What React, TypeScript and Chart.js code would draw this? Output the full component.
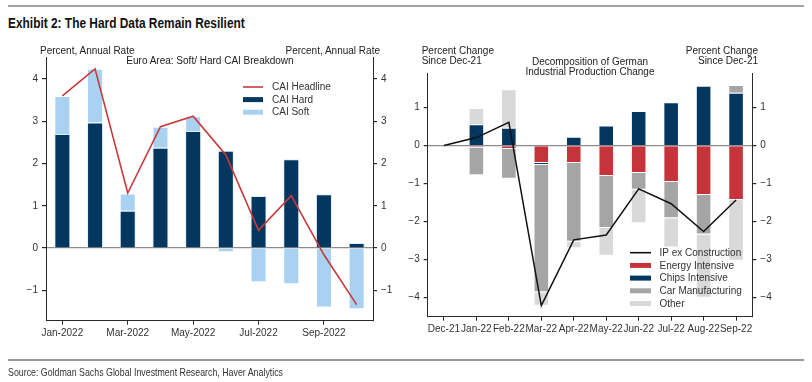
import React, { useEffect, useRef } from 'react';
import { Chart, registerables } from 'chart.js';

Chart.register(...registerables);

// ---------- Left chart data ----------
const CAI_MONTHS = ['Jan-2022', 'Feb-2022', 'Mar-2022', 'Apr-2022', 'May-2022', 'Jun-2022', 'Jul-2022', 'Aug-2022', 'Sep-2022', 'Oct-2022'];
const CAI_HARD = [2.70, 2.97, 0.88, 2.37, 2.77, 2.30, 1.23, 2.10, 1.27, 0.12];
const CAI_SOFT = [0.90, 1.27, 0.41, 0.50, 0.35, -0.10, -0.81, -0.86, -1.41, -1.45];
const CAI_HEADLINE = [3.60, 4.24, 1.30, 2.87, 3.12, 2.20, 0.42, 1.24, -0.16, -1.34];
const CAI_TICKS = [-1, 0, 1, 2, 3, 4];
const CAI_NAMES = ['CAI Headline', 'CAI Hard', 'CAI Soft'];

// ---------- Right chart data ----------
const IP_MONTHS = ['Dec-21', 'Jan-22', 'Feb-22', 'Mar-22', 'Apr-22', 'May-22', 'Jun-22', 'Jul-22', 'Aug-22', 'Sep-22'];
const IP_ENERGY = [null, -0.05, -0.09, -0.46, -0.46, -0.80, -0.72, -0.96, -1.30, -1.43];
const IP_CHIPS = [null, 0.56, 0.47, -0.05, 0.23, 0.53, 0.91, 1.14, 1.57, 1.39];
const IP_CAR = [null, -0.73, -0.78, -3.35, -2.07, -1.37, -0.44, -0.95, -1.04, 0.20];
const IP_OTHER = [null, 0.43, 1.01, -0.35, -0.17, -0.73, -0.88, -0.77, -1.66, -1.60];
const IP_LINE = [0, 0.21, 0.61, -4.21, -2.48, -2.35, -1.14, -1.53, -2.26, -1.43];
const IP_TICKS = [-4, -3, -2, -1, 0, 1];
const IP_NAMES = ['IP ex Construction', 'Energy Intensive', 'Chips Intensive', 'Car Manufacturing', 'Other'];

const NAVY = '#033760';
const LIGHT_BLUE = '#A9D1F1';
const RED = '#C4343A';
const LINE_RED = '#C83A3A';
const CAR_GRAY = '#A5A5A5';
const OTHER_GRAY = '#D9D9D9';
const TEXT = '#333333';
const AXIS = '#2a2a2a';
const FONT = '"Liberation Sans", Arial, sans-serif';

const fmt = (v: number) => (v < 0 ? '\u2212' + Math.abs(v) : String(v));

type LegendItem = { label: string; color: string; kind: 'line' | 'box' };

function makeLegend(items: LegendItem[], x0: number, y0: number, dy: number, sw: number, tx: number) {
  return {
    id: 'customLegend',
    afterDraw(chart: any) {
      const ctx = chart.ctx;
      ctx.save();
      ctx.font = '10px ' + FONT;
      ctx.textBaseline = 'middle';
      items.forEach((it, i) => {
        const y = y0 + i * dy;
        if (it.kind === 'line') {
          ctx.strokeStyle = it.color;
          ctx.lineWidth = 1.6;
          ctx.beginPath();
          ctx.moveTo(x0, y);
          ctx.lineTo(x0 + sw, y);
          ctx.stroke();
        } else {
          ctx.fillStyle = it.color;
          ctx.fillRect(x0, y - 2.5, sw, 5);
        }
        ctx.fillStyle = TEXT;
        ctx.fillText(it.label, tx, y + 0.5);
      });
      ctx.restore();
    },
  };
}

function yAxis(position: 'left' | 'right', min: number, max: number, ticks: number[], width: number, zeroLine: boolean) {
  return {
    type: 'linear',
    position,
    min,
    max,
    stacked: true,
    afterBuildTicks: (scale: any) => {
      scale.ticks = ticks.map((v) => ({ value: v }));
    },
    afterFit: (scale: any) => {
      scale.width = width;
    },
    border: { display: true, color: AXIS, width: 1 },
    grid: {
      drawOnChartArea: zeroLine,
      drawTicks: true,
      tickLength: 4,
      tickColor: AXIS,
      color: (ctx: any) => (ctx.tick && ctx.tick.value === 0 ? '#8c8c8c' : 'rgba(0,0,0,0)'),
      lineWidth: 1.2,
    },
    ticks: {
      color: TEXT,
      font: { family: FONT, size: 10 },
      padding: 4,
      callback: (v: any) => fmt(Number(v)),
    },
  };
}

function LeftChart() {
  const ref = useRef<HTMLCanvasElement>(null);
  useEffect(() => {
    const legend = makeLegend(
      [
        { label: CAI_NAMES[0], color: LINE_RED, kind: 'line' },
        { label: CAI_NAMES[1], color: NAVY, kind: 'box' },
        { label: CAI_NAMES[2], color: LIGHT_BLUE, kind: 'box' },
      ],
      243, 87, 12.6, 20, 272
    );
    const chart = new Chart(ref.current as HTMLCanvasElement, {
      type: 'bar',
      data: {
        labels: CAI_MONTHS,
        datasets: [
          {
            type: 'line',
            label: CAI_NAMES[0],
            data: CAI_HEADLINE,
            borderColor: LINE_RED,
            borderWidth: 1.6,
            pointRadius: 0,
            tension: 0,
            stack: 'line',
            order: 0,
          } as any,
          {
            label: CAI_NAMES[1],
            data: CAI_HARD,
            backgroundColor: NAVY,
            borderColor: 'rgba(220,235,250,0.9)',
            borderWidth: 1,
            order: 1,
            stack: 'bars',
          },
          {
            label: CAI_NAMES[2],
            data: CAI_SOFT,
            backgroundColor: LIGHT_BLUE,
            borderColor: 'rgba(255,255,255,0.9)',
            borderWidth: 1,
            order: 1,
            stack: 'bars',
          },
        ],
      },
      options: {
        responsive: false,
        animation: false,
        devicePixelRatio: 1,
        layout: { padding: { top: 57, left: 0, right: 0, bottom: 0 } },
        datasets: { bar: { categoryPercentage: 1, barPercentage: 0.49 } },
        plugins: { legend: { display: false }, tooltip: { enabled: false }, title: { display: false } },
        scales: {
          x: {
            stacked: true,
            afterFit: (scale: any) => {
              scale.height = 382 - 320.7;
            },
            border: { display: true, color: AXIS, width: 1 },
            grid: {
              offset: false,
              drawOnChartArea: false,
              drawTicks: true,
              tickLength: 4,
              tickColor: (ctx: any) => (ctx.index % 2 === 0 ? AXIS : 'rgba(0,0,0,0)'),
            },
            ticks: {
              autoSkip: false,
              maxRotation: 0,
              minRotation: 0,
              color: TEXT,
              padding: 3,
              font: { family: FONT, size: 10 },
              callback: function (this: any, v: any, i: number) {
                return i % 2 === 0 ? CAI_MONTHS[i] : '';
              },
            },
          },
          y: yAxis('left', -1.72, 4.52, CAI_TICKS, 46, true),
          y2: yAxis('right', -1.72, 4.52, CAI_TICKS, 400 - 373, false),
        } as any,
      },
      plugins: [legend],
    } as any);
    return () => chart.destroy();
  }, []);
  return <canvas ref={ref} width={400} height={382} style={{ position: 'absolute', left: 0, top: 0, width: 400, height: 382 }} />;
}

function RightChart() {
  const ref = useRef<HTMLCanvasElement>(null);
  useEffect(() => {
    const legend = makeLegend(
      [
        { label: IP_NAMES[0], color: '#111111', kind: 'line' },
        { label: IP_NAMES[1], color: RED, kind: 'box' },
        { label: IP_NAMES[2], color: NAVY, kind: 'box' },
        { label: IP_NAMES[3], color: CAR_GRAY, kind: 'box' },
        { label: IP_NAMES[4], color: OTHER_GRAY, kind: 'box' },
      ],
      230, 252.7, 12.7, 21, 259.5
    );
    const barDs = (label: string, data: any[], color: string) => ({
      label,
      data,
      backgroundColor: color,
      borderColor: 'rgba(255,255,255,0.9)',
      borderWidth: 1,
      order: 1,
      stack: 'bars',
    });
    const chart = new Chart(ref.current as HTMLCanvasElement, {
      type: 'bar',
      data: {
        labels: IP_MONTHS,
        datasets: [
          {
            type: 'line',
            label: IP_NAMES[0],
            data: IP_LINE,
            borderColor: '#111111',
            borderWidth: 1.5,
            pointRadius: 0,
            tension: 0,
            stack: 'line',
            order: 0,
          } as any,
          barDs(IP_NAMES[1], IP_ENERGY, RED),
          barDs(IP_NAMES[2], IP_CHIPS, NAVY),
          barDs(IP_NAMES[3], IP_CAR, CAR_GRAY),
          barDs(IP_NAMES[4], IP_OTHER, OTHER_GRAY),
        ],
      },
      options: {
        responsive: false,
        animation: false,
        devicePixelRatio: 1,
        layout: { padding: { top: 73.3, left: 0, right: 0, bottom: 0 } },
        datasets: { bar: { categoryPercentage: 1, barPercentage: 0.48 } },
        plugins: { legend: { display: false }, tooltip: { enabled: false }, title: { display: false } },
        scales: {
          x: {
            stacked: true,
            afterFit: (scale: any) => {
              scale.height = 382 - 316.7;
            },
            border: { display: true, color: AXIS, width: 1 },
            grid: {
              offset: false,
              drawOnChartArea: false,
              drawTicks: true,
              tickLength: 4,
              tickColor: AXIS,
            },
            ticks: {
              autoSkip: false,
              maxRotation: 0,
              minRotation: 0,
              color: TEXT,
              padding: 3,
              font: { family: FONT, size: 10 },
            },
          },
          y: yAxis('left', -4.5, 1.9, IP_TICKS, 27.7, true),
          y2: yAxis('right', -4.5, 1.9, IP_TICKS, 412 - 352.3, false),
        } as any,
      },
      plugins: [legend],
    } as any);
    return () => chart.destroy();
  }, []);
  return <canvas ref={ref} width={412} height={382} style={{ position: 'absolute', left: 400, top: 0, width: 412, height: 382 }} />;
}

const txt: React.CSSProperties = {
  position: 'absolute',
  font: '10px ' + FONT,
  lineHeight: '11px',
  color: '#222',
  whiteSpace: 'nowrap',
};

export default function App() {
  return (
    <div style={{ position: 'fixed', left: 0, top: 0, width: 812, height: 382, background: '#fff', overflow: 'hidden' }}>
      <div style={{ position: 'absolute', left: 8, top: 5, width: 796, height: 2, background: '#a3a3a3' }} />
      <div
        style={{
          position: 'absolute',
          left: 8,
          top: 14,
          font: 'bold 14px "Liberation Sans", Arial, sans-serif',
          lineHeight: '18px',
          color: '#111',
          whiteSpace: 'nowrap',
          transform: 'scaleX(0.85)',
          transformOrigin: '0 0',
        }}
      >
        Exhibit 2: The Hard Data Remain Resilient
      </div>

      <LeftChart />
      <RightChart />

      <div style={{ ...txt, left: 40, top: 44.5 }}>Percent, Annual Rate</div>
      <div style={{ ...txt, left: 230, top: 44.5, width: 150, textAlign: 'right' }}>Percent, Annual Rate</div>
      <div style={{ ...txt, left: 60, top: 54.5, width: 300, textAlign: 'center' }}>Euro Area: Soft/ Hard CAI Breakdown</div>

      <div style={{ ...txt, left: 421.7, top: 45.5, lineHeight: '10.4px' }}>
        Percent Change
        <br />
        Since Dec-21
      </div>
      <div style={{ ...txt, left: 608, top: 45.5, width: 150, textAlign: 'right', lineHeight: '10.4px' }}>
        Percent Change
        <br />
        Since Dec-21
      </div>
      <div style={{ ...txt, left: 440, top: 56.6, width: 300, textAlign: 'center', lineHeight: '10.7px' }}>
        Decomposition of German
        <br />
        Industrial Production Change
      </div>

      <div style={{ position: 'absolute', left: 8, top: 359, width: 796, height: 1.5, background: '#9a9a9a' }} />
      <div
        style={{
          position: 'absolute',
          left: 8,
          top: 366,
          font: '10.5px "Liberation Sans", Arial, sans-serif',
          lineHeight: '13px',
          color: '#333',
          whiteSpace: 'nowrap',
          transform: 'scaleX(0.84)',
          transformOrigin: '0 0',
        }}
      >
        Source: Goldman Sachs Global Investment Research, Haver Analytics
      </div>
    </div>
  );
}
